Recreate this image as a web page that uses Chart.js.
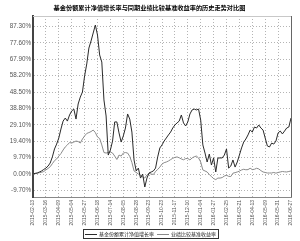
<!DOCTYPE html>
<html><head><meta charset="utf-8">
<script src="https://cdn.jsdelivr.net/npm/chart.js@4.4.1/dist/chart.umd.min.js"></script>
<style>html,body{margin:0;padding:0;background:#fff}#wrap{width:300px;height:241px}</style>
</head><body><div id="wrap"><canvas id="c" width="300" height="241"></canvas></div>
<script>
const titleText = '基金份额累计净值增长率与同期业绩比较基准收益率的历史走势对比图';
const seriesNames = ['基金份额累计净值增长率', '业绩比较基准收益率'];
const tickLabels = ['2015-02-13','2015-03-16','2015-04-09','2015-05-04','2015-05-27','2015-06-18','2015-07-14',
  '2015-08-05','2015-08-28','2015-09-23','2015-10-23','2015-11-17','2015-12-10','2016-01-04','2016-01-27',
  '2016-02-25','2016-03-21','2016-04-13','2016-05-09','2016-05-31','2016-06-27'];
const yTicks = [-9.7, 0, 9.7, 19.4, 29.1, 38.8, 48.5, 58.2, 67.9, 77.6, 87.3];
const fund = [0.0,0.4,0.6,1.2,1.8,2.7,3.5,4.7,6.5,10.1,
14.8,17.7,21.3,26.6,31.3,33.1,31.3,34.9,37.3,38.4,
32.5,41.4,45.5,48.5,58.0,65.1,74.5,78.7,83.4,88.1,
82.2,70.4,66.2,43.8,34.3,11.2,14.2,19.5,30.8,30.8,
24.3,18.9,22.5,27.2,35.5,32.5,24.8,8.3,1.8,3.5,
-2.4,0.0,-7.7,-2.4,0.6,1.2,1.8,3.5,10.1,15.4,
17.2,19.5,21.3,23.1,24.8,27.2,29.0,30.2,31.3,34.9,
30.2,28.4,30.8,35.5,37.9,38.4,37.9,38.4,31.9,17.2,
12.4,7.1,11.8,5.3,9.5,1.2,9.5,9.5,9.5,11.2,
14.8,3.5,4.7,8.3,4.1,7.1,11.2,15.4,18.9,20.7,
23.1,26.0,24.8,27.8,27.2,29.0,27.2,26.0,21.3,16.6,
16.0,18.3,17.7,19.5,24.3,25.4,23.7,25.4,27.2,27.8,
33.1];
const bench = [0.0,0.2,0.5,0.8,1.0,1.5,2.4,3.3,4.3,6.1,
7.9,8.9,10.6,12.1,14.2,16.0,17.2,18.6,18.3,18.9,
19.5,19.2,18.3,20.7,22.5,24.0,24.5,25.1,26.0,24.5,
21.9,21.0,17.2,12.7,12.4,12.7,13.0,12.4,10.6,8.6,
11.2,10.6,12.4,12.7,12.4,10.4,6.8,1.8,0.9,0.0,
-0.8,-1.7,-2.4,-0.6,0.3,0.0,-0.3,1.5,2.7,4.1,
5.9,6.7,7.1,7.7,8.5,9.3,9.8,10.1,9.6,8.9,
8.4,9.1,9.2,8.3,9.5,10.2,10.6,9.5,7.1,2.4,
1.8,1.2,-0.3,-1.5,-2.7,-3.3,-2.4,-2.4,-2.1,-1.2,
-0.7,-1.4,-1.5,0.5,0.8,1.2,1.7,2.4,2.8,2.5,
2.6,3.4,2.6,2.8,3.4,3.0,2.0,1.2,0.9,0.6,
0.6,0.6,0.9,0.5,0.9,1.2,1.5,1.3,1.2,1.5,
1.8];
const STEP = (fund.length - 1) / (tickLabels.length - 1);
const categories = fund.map((_, i) => i % STEP === 0 ? tickLabels[i / STEP] : '');

const fundColor = '#2a2a2a', benchColor = '#8a8a8a';

const framePlugin = {
  id: 'frame',
  afterDraw(chart) {
    const {ctx, chartArea: a} = chart;
    ctx.save();
    ctx.lineWidth = 1;
    ctx.strokeStyle = '#c8c8c8';
    ctx.beginPath(); ctx.moveTo(a.left, Math.round(a.top) + 0.5); ctx.lineTo(a.right, Math.round(a.top) + 0.5); ctx.stroke();
    ctx.strokeStyle = '#666';
    ctx.beginPath(); ctx.moveTo(Math.round(a.right) + 0.5, a.top); ctx.lineTo(Math.round(a.right) + 0.5, a.bottom); ctx.stroke();
    ctx.font = '5px "Noto Sans CJK SC"';
    ctx.textBaseline = 'middle';
    const lineLen = 12, gap = 2, between = 3;
    const w1 = ctx.measureText(seriesNames[0]).width, w2 = ctx.measureText(seriesNames[1]).width;
    const total = lineLen + gap + w1 + between + lineLen + gap + w2;
    let x = 150.5 - total / 2;
    const y = 234;
    ctx.strokeStyle = '#333';
    ctx.strokeRect(Math.round(x - 2) + 0.5, 229.5, Math.round(total + 4), 9);
    const colors = [fundColor, benchColor];
    [w1, w2].forEach((w, k) => {
      ctx.strokeStyle = colors[k];
      ctx.beginPath(); ctx.moveTo(x, y + 0.5); ctx.lineTo(x + lineLen, y + 0.5); ctx.stroke();
      x += lineLen + gap;
      ctx.fillStyle = '#222';
      ctx.fillText(seriesNames[k], x, y + 0.5);
      x += w + between;
    });
    ctx.restore();
  }
};

new Chart(document.getElementById('c'), {
  type: 'line',
  data: {
    labels: categories,
    datasets: [
      {label: seriesNames[0], data: fund, borderColor: fundColor, borderWidth: 1, pointRadius: 0, tension: 0, order: 0},
      {label: seriesNames[1], data: bench, borderColor: benchColor, borderWidth: 1, pointRadius: 0, tension: 0, order: 1}
    ]
  },
  options: {
    responsive: false,
    animation: false,
    devicePixelRatio: 1,
    layout: {padding: {left: 8, right: 9, top: 0, bottom: 0}},
    plugins: {
      legend: {display: false},
      tooltip: {enabled: false},
      title: {
        display: true, text: titleText, color: '#000',
        font: {family: '"Noto Sans CJK SC"', size: 6.2, weight: 'bold', lineHeight: 1.2},
        padding: {top: 4, bottom: 4.56}
      }
    },
    scales: {
      x: {
        type: 'category', offset: false,
        grid: {offset: false, color: '#b4b4b4', lineWidth: 1, drawTicks: false},
        border: {display: true, color: '#888', width: 1, dash: [1, 2]},
        ticks: {
          autoSkip: false, maxRotation: 90, minRotation: 90, padding: 3,
          color: '#555', font: {family: '"Liberation Sans"', size: 5},
          callback: (v, i) => i % STEP === 0 ? tickLabels[i / STEP] : null
        },
        afterFit: s => { s.height = 44; }
      },
      y: {
        min: -13.6, max: 93.45,
        afterBuildTicks: s => { s.ticks = yTicks.map(v => ({value: v})); },
        afterFit: s => { s.width = 25; },
        grid: {color: '#b4b4b4', lineWidth: 1, drawTicks: false},
        border: {display: true, color: '#444', width: 2, dash: [1, 2]},
        ticks: {
          autoSkip: false,
          color: '#555', padding: 2, font: {family: '"Liberation Sans"', size: 6.3},
          callback: v => v.toFixed(2) + '%'
        }
      }
    }
  },
  plugins: [framePlugin]
});
</script>
</body></html>
